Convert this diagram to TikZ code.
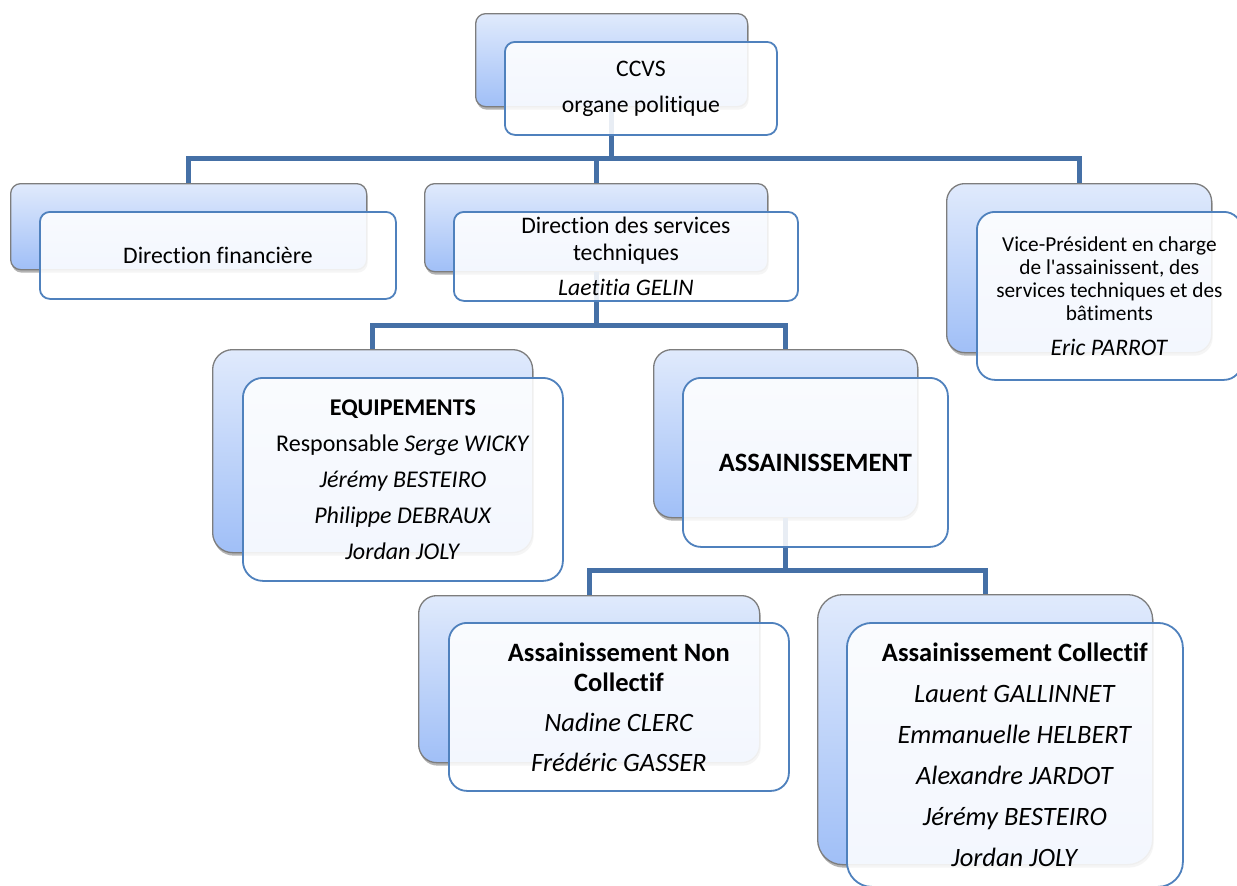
\documentclass[tikz,border=0pt]{standalone}
\usepackage{fontspec}
\setmainfont{Carlito}[Ligatures={TeXOff,CommonOff}]
\usetikzlibrary{shadows}
\definecolor{conncol}{RGB}{69,112,166}
\definecolor{gtop}{RGB}{224,234,252}
\definecolor{gbot}{RGB}{160,191,247}
\definecolor{bborder}{RGB}{125,125,125}
\definecolor{fborder}{RGB}{79,129,189}
\begin{document}
\begin{tikzpicture}[x=1pt,y=-1pt,
  backbox/.style={draw=bborder, line width=1.3pt, top color=gtop, bottom color=gbot,
    anchor=north west, inner sep=0pt,
    drop shadow={shadow xshift=1pt, shadow yshift=-3pt, opacity=0.3, fill=black}},
  frontbox/.style={draw=fborder, line width=1.8pt, fill=white, fill opacity=0.88,
    text opacity=1, anchor=north west, align=center, inner sep=0pt},
  conn/.style={draw=conncol, line width=5pt},
  mainfnt/.style={font=\fontsize{23.7}{27}\selectfont}]
\useasboundingbox (0,0) rectangle (1237,886);
\fill[white] (0,0) rectangle (1237,886);

% back boxes
\node[backbox, minimum width=272pt, minimum height=93pt, rounded corners=10pt] (ccvsB) at (475,13) {};
\node[backbox, minimum width=356pt, minimum height=86pt, rounded corners=10pt] (finB) at (10,183) {};
\node[backbox, minimum width=343pt, minimum height=88pt, rounded corners=10pt] (dstB) at (424,183) {};
\node[backbox, minimum width=265pt, minimum height=169pt, rounded corners=18pt] (vpB) at (946,183) {};
\node[backbox, minimum width=320pt, minimum height=203pt, rounded corners=20pt] (eqB) at (212,349) {};
\node[backbox, minimum width=264pt, minimum height=168pt, rounded corners=18pt] (asB) at (653,349) {};
\node[backbox, minimum width=341pt, minimum height=167pt, rounded corners=18pt] (ancB) at (418,595) {};
\node[backbox, minimum width=335pt, minimum height=270pt, rounded corners=25pt] (acB) at (817,594) {};

% connectors
\coordinate (bar1) at (0,158);
\coordinate (bar2) at (0,325);
\coordinate (bar3) at (0,570);
\draw[conn] (finB.north) |- (vpB.north |- bar1) -- (vpB.north);
\draw[conn] (ccvsB.south) -- (ccvsB.south |- bar1);
\draw[conn] (dstB.north) -- (dstB.north |- bar1);
\draw[conn] (eqB.north) |- (asB.north |- bar2) -- (asB.north);
\draw[conn] (dstB.south) -- (dstB.south |- bar2);
\draw[conn] (ancB.north) |- (acB.north |- bar3) -- (acB.north);
\draw[conn] (asB.south) -- (asB.south |- bar3);

% front boxes
\node[frontbox, mainfnt, minimum width=272pt, minimum height=93pt, rounded corners=10pt] (ccvs) at (504,41)
  {CCVS\\[9pt]organe politique};
\node[frontbox, mainfnt, minimum width=356pt, minimum height=87pt, rounded corners=10pt] (fin) at (39,211)
  {Direction financière};
\node[frontbox, mainfnt, minimum width=344pt, minimum height=89pt, rounded corners=10pt] (dst) at (453,211)
  {Direction des services\\techniques\\[8pt]\textit{Laetitia GELIN}};
\node[frontbox, font=\fontsize{21.3}{23}\selectfont, minimum width=265pt, minimum height=168pt, rounded corners=18pt] (vp) at (976,211)
  {Vice-Président en charge\\de l'assainissent, des\\services techniques et des\\bâtiments\\[12pt]{\fontsize{23.7}{27}\selectfont\textit{Eric PARROT}}};
\node[frontbox, font=\fontsize{24}{36}\selectfont, minimum width=320pt, minimum height=203pt, rounded corners=20pt] (eq) at (242,377)
  {\textbf{EQUIPEMENTS}\\Responsable \textit{Serge WICKY}\\\textit{Jérémy BESTEIRO}\\\textit{Philippe DEBRAUX}\\\textit{Jordan JOLY}};
\node[frontbox, font=\fontsize{26.5}{32}\selectfont, minimum width=265pt, minimum height=169pt, rounded corners=18pt] (as) at (682,377)
  {\textbf{ASSAINISSEMENT}};
\node[frontbox, font=\fontsize{26.5}{30}\selectfont, minimum width=340pt, minimum height=168pt, rounded corners=18pt] (anc) at (448,622)
  {\textbf{Assainissement Non}\\\textbf{Collectif}\\[10pt]\textit{Nadine CLERC}\\[10pt]\textit{Frédéric GASSER}};
\node[frontbox, font=\fontsize{26.5}{41}\selectfont, minimum width=336pt, minimum height=264pt, rounded corners=25pt] (ac) at (846,622)
  {\textbf{Assainissement Collectif}\\\textit{Lauent GALLINNET}\\\textit{Emmanuelle HELBERT}\\\textit{Alexandre JARDOT}\\\textit{Jérémy BESTEIRO}\\\textit{Jordan JOLY}};
\end{tikzpicture}
\end{document}
